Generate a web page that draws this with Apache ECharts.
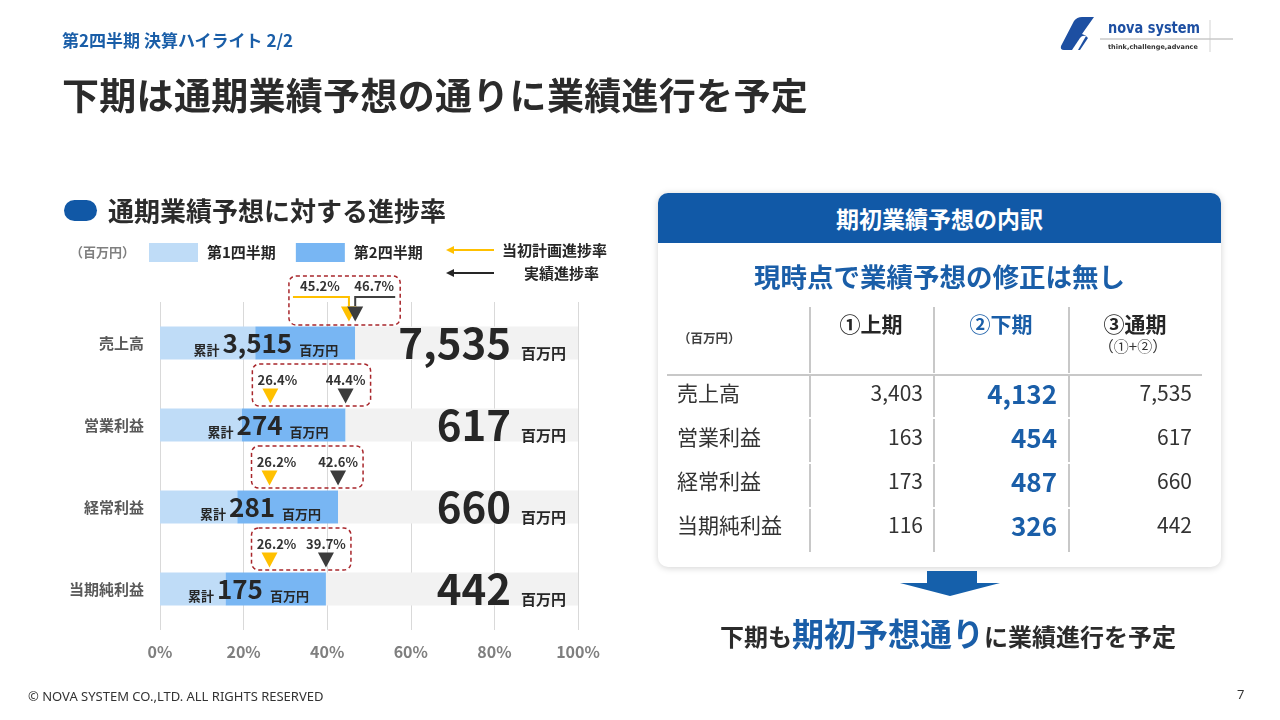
<!DOCTYPE html>
<html lang="ja">
<head>
<meta charset="utf-8">
<title>第2四半期 決算ハイライト 2/2</title>
<script src="https://cdn.jsdelivr.net/npm/echarts@6/dist/echarts.min.js"></script>
<style>
    html, body { margin: 0; padding: 0; background: #fff; }
    body {
        width: 1280px; height: 720px; position: relative; overflow: hidden;
        font-family: "Noto Sans CJK JP", "Noto Sans", sans-serif; color: #2b2b2b;
    }
    #chart { position: absolute; left: 0; top: 0; width: 1280px; height: 720px; }
    .abs { position: absolute; white-space: nowrap; }
    .sub { left: 62px; top: 29px; font-size: 17px; line-height: 22px; font-weight: bold; color: #1a5ea8; }
    .title { left: 62px; top: 71px; font-size: 37px; line-height: 46px; font-weight: bold; color: #2b2b2b; letter-spacing: 0.3px; }
    .pill { left: 64px; top: 200px; width: 33px; height: 21px; border-radius: 11px; background: #1158a6; }
    .sec { left: 108px; top: 194px; font-size: 26px; line-height: 32px; font-weight: bold; color: #2b2b2b; }
    .panel {
        left: 658px; top: 193px; width: 563px; height: 374px; border-radius: 10px; background: #fff;
        box-shadow: 0 1px 7px rgba(0, 0, 0, 0.18); overflow: hidden;
    }
    .panel .head {
        height: 50px; line-height: 50px; background: #1159a7; color: #fff; text-align: center;
        font-size: 23px; font-weight: bold;
    }
    .lead { left: 658px; width: 563px; top: 259px; text-align: center; font-size: 26.5px; line-height: 34px; font-weight: bold; color: #1a5ea8; }
    .th { font-weight: bold; font-size: 21px; line-height: 26px; color: #262626; text-align: center; width: 120px; }
    .blue { color: #1a5ea8; }
    .vl { width: 1.5px; background: #c8c8c8; }
    .rowlab { left: 677px; font-size: 21px; line-height: 28px; color: #333; }
    .num { text-align: right; font-size: 21px; line-height: 28px; color: #333; }
    .num.b { font-size: 26px; font-weight: bold; color: #1a5ea8; }
    .concl { left: 720px; top: 610px; font-size: 24px; line-height: 44px; font-weight: bold; color: #2b2b2b; }
    .concl span { font-size: 32px; color: #1a5ea8; }
    .foot { left: 28px; top: 687px; font-size: 13px; line-height: 18px; color: #333; font-family: "Noto Sans", sans-serif; }
    .page { left: 1237px; top: 685px; font-size: 13px; line-height: 18px; color: #333; font-family: "Noto Sans", sans-serif; }
</style>
</head>
<body>
<div id="chart"></div>

<div class="abs sub">第2四半期 決算ハイライト 2/2</div>
<div class="abs title">下期は通期業績予想の通りに業績進行を予定</div>

<svg class="abs" style="left:1058px;top:14px" width="180" height="42" viewBox="0 0 180 42">
    <path d="M3 32 L16 7 Q19 3 24 3 L36 3 L24 20 Q28 21 30 24 L22 36 L6 36 Q2 36 3 32 Z" fill="#1d4fa2"/>
    <path d="M14 36 L22 24 Q24 21 28 22 L20 36 Z" fill="#ffffff"/>
    <text x="50" y="19" font-family="DejaVu Sans" font-weight="bold" font-size="16" fill="#1d4fa2" textLength="92" lengthAdjust="spacingAndGlyphs">nova system</text>
    <line x1="42" y1="25" x2="175" y2="25" stroke="#9a9a9a" stroke-width="0.8"/>
    <text x="50" y="35" font-family="DejaVu Sans" font-weight="bold" font-size="6.5" fill="#333">think,challenge,advance</text>
    <line x1="152" y1="6" x2="152" y2="38" stroke="#c8c8c8" stroke-width="0.8"/>
</svg>

<div class="abs pill"></div>
<div class="abs sec">通期業績予想に対する進捗率</div>

<div class="abs panel"><div class="head">期初業績予想の内訳</div></div>
<div class="abs lead">現時点で業績予想の修正は無し</div>
<div id="table"></div>

<svg class="abs" style="left:900px;top:571px" width="100" height="26" viewBox="0 0 100 26">
    <polygon points="27,0 77,0 77,12 100,12 50,25 0,12 27,12" fill="#1560ab"/>
</svg>
<div class="abs concl">下期も<span>期初予想通り</span>に業績進行を予定</div>

<div class="abs foot">© NOVA SYSTEM CO.,LTD. ALL RIGHTS RESERVED</div>
<div class="abs page">7</div>

<script>
    var FONT = 'Noto Sans CJK JP';

    // 進捗率チャート
    var categories = ['売上高', '営業利益', '経常利益', '当期純利益'];
    var q1Pct = [22.8, 19.6, 18.5, 15.7];          // 第1四半期の到達点(%)
    var actualPct = [46.7, 44.4, 42.6, 39.7];      // 実績進捗率
    var planPct = [45.2, 26.4, 26.2, 26.2];        // 当初計画進捗率
    var cumulative = ['3,515', '274', '281', '175'];
    var fullYear = ['7,535', '617', '660', '442'];

    // 期初業績予想の内訳
    var tableHead = ['①上期', '②下期', '③通期'];
    var firstHalf = ['3,403', '163', '173', '116'];
    var secondHalf = ['4,132', '454', '487', '326'];
    var fullYearPlan = ['7,535', '617', '660', '442'];

    function buildTable() {
        var html = '';
        var rowY = [378, 422, 466, 510];
        var colRight = [923, 1057, 1192];
        var colCenter = [871, 1001, 1135];
        var sepX = [809, 933, 1068];
        var segs = [[307, 373], [376, 417], [419, 462], [464, 507], [509, 552]];

        html += '<div class="abs" style="left:678px;top:328px;font-size:12.5px;line-height:20px;font-weight:bold;color:#404040">（百万円）</div>';
        for (var c = 0; c < tableHead.length; c++) {
            html += '<div class="abs th' + (c === 1 ? ' blue' : '') + '" style="left:' + (colCenter[c] - 60) + 'px;top:310px">' + tableHead[c] + '</div>';
        }
        html += '<div class="abs" style="left:1073px;top:336px;width:120px;text-align:center;font-size:15px;line-height:20px;color:#333">（①+②）</div>';
        html += '<div class="abs" style="left:667px;top:374px;width:535px;height:2px;background:#c8c8c8"></div>';
        for (var s = 0; s < sepX.length; s++) {
            for (var k = 0; k < segs.length; k++) {
                html += '<div class="abs vl" style="left:' + sepX[s] + 'px;top:' + segs[k][0] + 'px;height:' + (segs[k][1] - segs[k][0]) + 'px"></div>';
            }
        }
        for (var i = 0; i < categories.length; i++) {
            var top = rowY[i];
            html += '<div class="abs rowlab" style="top:' + top + 'px">' + categories[i] + '</div>';
            html += '<div class="abs num" style="right:' + (1280 - colRight[0]) + 'px;top:' + top + 'px">' + firstHalf[i] + '</div>';
            html += '<div class="abs num b" style="right:' + (1280 - colRight[1]) + 'px;top:' + (top + 1) + 'px">' + secondHalf[i] + '</div>';
            html += '<div class="abs num" style="right:' + (1280 - colRight[2]) + 'px;top:' + top + 'px">' + fullYearPlan[i] + '</div>';
        }
        document.getElementById('table').innerHTML = html;
    }

    buildTable();

    var triangle = 'path://M0,0L20,0L10,18Z';

    function markerData(values, labelOffset) {
        return values.map(function (v, i) {
            var item = {value: [v, i]};
            item.label = {offset: i === 0 ? labelOffset[0] : labelOffset[1]};
            return item;
        });
    }

    var chart = echarts.init(document.getElementById('chart'));
    var option = {
        animation: false,
        textStyle: {fontFamily: FONT},
        legend: {
            data: ['第1四半期', '第2四半期'],
            left: 149,
            top: 243,
            padding: 0,
            icon: 'rect',
            itemWidth: 49,
            itemHeight: 19,
            itemGap: 20,
            textStyle: {fontSize: 15, fontWeight: 'bold', color: '#262626', padding: [0, 0, 0, 4]}
        },
        grid: {left: 160, right: 702, top: 302, bottom: 90},
        xAxis: {
            type: 'value',
            min: 0,
            max: 100,
            interval: 20,
            axisLine: {show: false},
            axisTick: {show: false},
            splitLine: {lineStyle: {color: '#d9d9d9', width: 1}},
            axisLabel: {formatter: '{value}%', color: '#7f7f7f', fontSize: 16, fontWeight: 'bold', margin: 14}
        },
        yAxis: {
            type: 'category',
            inverse: true,
            data: categories,
            axisLine: {show: false},
            axisTick: {show: false},
            axisLabel: {color: '#595959', fontSize: 15, fontWeight: 'bold', margin: 16}
        },
        series: [
            {
                name: '第1四半期',
                type: 'bar',
                stack: 'p',
                barWidth: 33,
                itemStyle: {color: '#bfdcf7'},
                data: q1Pct
            },
            {
                name: '第2四半期',
                type: 'bar',
                stack: 'p',
                itemStyle: {color: '#78b6f3'},
                data: actualPct.map(function (v, i) { return +(v - q1Pct[i]).toFixed(1); }),
                label: {
                    show: true,
                    position: 'insideRight',
                    distance: 17,
                    formatter: function (p) {
                        return '{s|累計}{b|' + cumulative[p.dataIndex] + '}{u|百万円}';
                    },
                    rich: {
                        s: {fontSize: 13, fontWeight: 'bold', color: '#262626', verticalAlign: 'bottom', lineHeight: 16, padding: [0, 3, 2, 0]},
                        b: {fontSize: 26, fontWeight: 'bold', color: '#262626', lineHeight: 32, padding: [0, 7, 0, 0]},
                        u: {fontSize: 13, fontWeight: 'bold', color: '#262626', verticalAlign: 'bottom', lineHeight: 16, padding: [0, 0, 2, 0]}
                    }
                }
            },
            {
                name: '残り',
                type: 'bar',
                stack: 'p',
                itemStyle: {color: '#f2f2f2'},
                data: actualPct.map(function (v) { return +(100 - v).toFixed(1); }),
                label: {
                    show: true,
                    position: 'insideRight',
                    distance: 12,
                    formatter: function (p) {
                        return '{big|' + fullYear[p.dataIndex] + '}{u|百万円}';
                    },
                    rich: {
                        big: {fontSize: 42, fontWeight: 'bold', color: '#262626', lineHeight: 48, padding: [0, 10, 0, 0]},
                        u: {fontSize: 15, fontWeight: 'bold', color: '#262626', verticalAlign: 'bottom', lineHeight: 18, padding: [0, 0, 6, 0]}
                    }
                }
            },
            {
                name: '当初計画進捗率',
                type: 'scatter',
                symbol: triangle,
                symbolSize: [16, 15],
                symbolOffset: [0, -29],
                itemStyle: {color: '#ffc000', opacity: 1},
                z: 5,
                label: {
                    show: true,
                    position: 'top',
                    distance: 2,
                    fontSize: 13,
                    fontWeight: 'bold',
                    color: '#333333',
                    formatter: function (p) { return planPct[p.dataIndex].toFixed(1) + '%'; }
                },
                data: markerData(planPct, [[-29, -12], [7, 0]])
            },
            {
                name: '実績進捗率',
                type: 'scatter',
                symbol: triangle,
                symbolSize: [16, 15],
                symbolOffset: [0, -29],
                itemStyle: {color: '#3c3c3c', opacity: 1},
                z: 6,
                label: {
                    show: true,
                    position: 'top',
                    distance: 2,
                    fontSize: 13,
                    fontWeight: 'bold',
                    color: '#333333',
                    formatter: function (p) { return actualPct[p.dataIndex].toFixed(1) + '%'; }
                },
                data: markerData(actualPct, [[19, -12], [0, 0]])
            }
        ]
    };
    chart.setOption(option);

    // 凡例の矢印・破線枠・引き出し線
    function overlay() {
        var g = [];
        var txt = function (x, y, s, size, color, weight) {
            return {type: 'text', x: x, y: y, silent: true, style: {
                text: s, fill: color, fontSize: size, fontWeight: weight, fontFamily: FONT, verticalAlign: 'middle'
            }};
        };
        var arrow = function (y, color) {
            g.push({type: 'line', silent: true, shape: {x1: 452, y1: y, x2: 494, y2: y}, style: {stroke: color, lineWidth: 2}});
            g.push({type: 'polygon', silent: true, shape: {points: [[446, y], [454, y - 4], [454, y + 4]]}, style: {fill: color}});
        };
        g.push(txt(70, 252, '（百万円）', 13, '#7f7f7f', 'bold'));
        arrow(250, '#ffc000');
        g.push(txt(502, 250, '当初計画進捗率', 15, '#262626', 'bold'));
        arrow(273, '#262626');
        g.push(txt(524, 273, '実績進捗率', 15, '#262626', 'bold'));

        for (var i = 0; i < categories.length; i++) {
            var p = chart.convertToPixel({gridIndex: 0}, [planPct[i], i]);
            var a = chart.convertToPixel({gridIndex: 0}, [actualPct[i], i]);
            var cy = p[1];
            var left, right, top, bottom;
            if (i === 0) {
                left = p[0] - 60; right = a[0] + 45; top = cy - 67; bottom = cy - 18;
                g.push({type: 'polyline', silent: true, z: 10,
                    shape: {points: [[p[0] - 56, cy - 46], [p[0], cy - 46], [p[0], cy - 37]]},
                    style: {stroke: '#ffc000', lineWidth: 2, fill: 'none'}});
                g.push({type: 'polyline', silent: true, z: 10,
                    shape: {points: [[a[0] + 40, cy - 46], [a[0], cy - 46], [a[0], cy - 37]]},
                    style: {stroke: '#404040', lineWidth: 2, fill: 'none'}});
            } else {
                left = p[0] - 18; right = a[0] + 25; top = cy - 61; bottom = cy - 19;
            }
            g.push({type: 'rect', silent: true, z: 10,
                shape: {x: left, y: top, width: right - left, height: bottom - top, r: 7},
                style: {fill: 'none', stroke: '#a8262b', lineWidth: 1.5, lineDash: [4, 3]}});
        }
        chart.setOption({graphic: g});
    }

    overlay();
</script>
</body>
</html>
